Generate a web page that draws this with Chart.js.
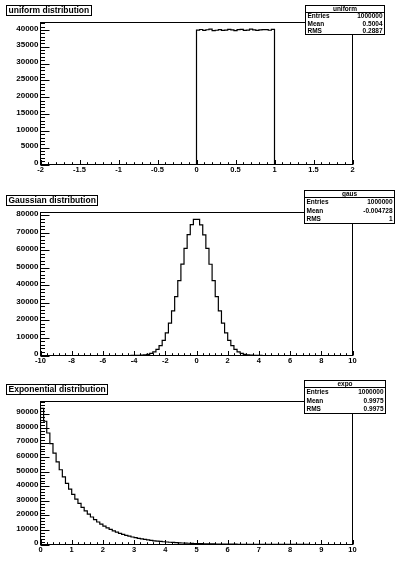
<!DOCTYPE html>
<html><head><meta charset="utf-8">
<script src="https://cdn.jsdelivr.net/npm/chart.js@4"></script>
<style>
html,body{margin:0;padding:0;background:#fff;width:396px;height:568px;overflow:hidden}
canvas{position:absolute;left:0}
</style></head><body>
<canvas id="c1" width="396" height="189" style="top:0px"></canvas>
<canvas id="c2" width="396" height="189" style="top:189px"></canvas>
<canvas id="c3" width="396" height="189" style="top:379px"></canvas>
<script>
// ---------------- data ----------------
const uniformRange = [-2, 2];
const uniformCounts = [
 0,0,0,0,0,0,0,0,0,0, 0,0,0,0,0,0,0,0,0,0, 0,0,0,0,0,0,0,0,0,0, 0,0,0,0,0,0,0,0,0,0, 0,0,0,0,0,0,0,0,0,0,
 39950,40120,39880,40050,40210,39760,39900,40080,39850,39920,
 40150,40030,39810,40090,40180,39870,39950,40230,40010,39840,
 39980,40110,40060,39900,40170,
 0,0,0,0,0,0,0,0,0,0, 0,0,0,0,0,0,0,0,0,0, 0,0,0,0,0
];
const gaussRange = [-10, 10];
const gaussCounts = [
 0,0,0,0,0,0,0,0,0,0, 0,0,0,0,0,0,0,0,0,0, 0,0,0,0,0,
 0,1,3,8,20,41,92,181,343,655,1192,2063,3478,5596,8681,12930,18502,25451,33634,42730,52150,61150,68930,74650,77700,
 77640,74580,68870,61090,52080,42690,33580,25410,18460,12900,8650,5580,3460,2050,1180,648,338,178,88,39,19,7,3,1,0,
 0,0,0,0,0,0,0,0,0,0, 0,0,0,0,0,0,0,0,0,0, 0,0,0,0,0
];
const expoRange = [0, 10];
const expoCounts = [
 93730,84820,76740,69440,62830,56850,51450,46550,42120,38110,
 34480,31200,28230,25540,23120,20910,18920,17130,15490,14030,
 12690,11480,10380,9400,8500,7700,6960,6300,5700,5160,
 4670,4220,3820,3460,3130,2830,2560,2320,2100,1890,
 1710,1560,1410,1270,1150,1040,950,850,770,690,
 630,570,520,470,420,380,350,310,280,250,
 230,210,190,170,160,140,130,110,100,90,
 85,78,70,64,57,51,47,42,38,34,
 31,29,26,23,21,19,17,16,14,13,
 11,10,10,9,8,7,7,6,5,5
];
const yMaxes = [42200, 81600, 98400];

const uniformXTicks = [-2,-1.5,-1,-0.5,0,0.5,1,1.5,2];
const uniformYTicks = [0,5000,10000,15000,20000,25000,30000,35000,40000];
const gaussXTicks = [-10,-8,-6,-4,-2,0,2,4,6,8,10];
const gaussYTicks = [0,10000,20000,30000,40000,50000,60000,70000,80000];
const expoXTicks = [0,1,2,3,4,5,6,7,8,9,10];
const expoYTicks = [0,10000,20000,30000,40000,50000,60000,70000,80000,90000];

const titles = ['uniform distribution','Gaussian distribution','Exponential distribution'];
const statNames = ['uniform','gaus','expo'];
const statEntries = ['1000000','1000000','1000000'];
const statMeans = ['0.5004','-0.004728','0.9975'];
const statRMS = ['0.2887','1','0.9975'];

// ---------------- layout (pixels, per pad) ----------------
const pads = [
 {id:'c1', counts:uniformCounts, range:uniformRange, xt:uniformXTicks, yt:uniformYTicks, ymax:yMaxes[0],
  fTop:22.5, fBot:164.5, stats:{x1:305.5,x2:384.5,y1:5.5,y2:34.5}, titleY:5.5},
 {id:'c2', counts:gaussCounts, range:gaussRange, xt:gaussXTicks, yt:gaussYTicks, ymax:yMaxes[1],
  fTop:23.5, fBot:166.5, stats:{x1:304.5,x2:394.5,y1:1.5,y2:34.5}, titleY:6.5},
 {id:'c3', counts:expoCounts, range:expoRange, xt:expoXTicks, yt:expoYTicks, ymax:yMaxes[2],
  fTop:22.5, fBot:165.5, stats:{x1:304.5,x2:385.5,y1:1.5,y2:34.5}, titleY:5.5}
];
const FONT = '"Liberation Sans", Arial, sans-serif';

function fmt(v){ return String(v); }

const rootPad = {
 id:'rootPad',
 afterDraw(chart, args, o){
  const ctx = chart.ctx, a = chart.chartArea, xs = chart.scales.x, ys = chart.scales.y;
  ctx.save();
  ctx.strokeStyle = '#000'; ctx.fillStyle = '#000'; ctx.lineWidth = 1;
  // frame
  ctx.strokeRect(a.left, a.top, a.right - a.left, a.bottom - a.top);
  // y ticks
  const yt = o.yt, ystep = (yt[1]-yt[0])/5;
  ctx.beginPath();
  for (let k = 0; ; k++){
   const v = yt[0] + k*ystep; if (v > ys.max + 1e-9) break;
   const py = Math.round(ys.getPixelForValue(v)) + 0.5;
   ctx.moveTo(a.left, py); ctx.lineTo(a.left + (k%5===0 ? 9 : 4.5), py);
  }
  // x ticks
  const xt = o.xt, xstep = (xt[1]-xt[0])/5;
  for (let k = 0; ; k++){
   const v = xt[0] + k*xstep; if (v > xs.max + 1e-9) break;
   const px = Math.round(xs.getPixelForValue(v)) + 0.5;
   ctx.moveTo(px, a.bottom); ctx.lineTo(px, a.bottom - (k%5===0 ? 4.5 : 2.3));
  }
  ctx.stroke();
  // y labels
  ctx.font = 'bold 8px ' + FONT;
  ctx.textAlign = 'right'; ctx.textBaseline = 'middle';
  yt.forEach(v => {
   const py = ys.getPixelForValue(v);
   ctx.fillText(fmt(v), a.left - 2, py - 1.5);
  });
  // x labels
  ctx.font = 'bold 7.5px ' + FONT;
  ctx.textAlign = 'center'; ctx.textBaseline = 'top';
  xt.forEach(v => {
   const px = xs.getPixelForValue(v);
   ctx.fillText(fmt(v), px, a.bottom + 1.5);
  });
  // title box
  ctx.font = 'bold 8.5px ' + FONT;
  ctx.textAlign = 'left'; ctx.textBaseline = 'middle';
  const tw = ctx.measureText(o.title).width;
  ctx.fillStyle = '#fff';
  ctx.fillRect(6.5, o.titleY, Math.round(tw + 4), 10);
  ctx.strokeRect(6.5, o.titleY, Math.round(tw + 4), 10);
  ctx.fillStyle = '#000';
  ctx.fillText(o.title, 8.5, o.titleY + 5.3);
  // stats box
  const s = o.stats, H = s.y2 - s.y1, hh = 7, rh = (H - hh)/3;
  ctx.fillStyle = '#fff';
  ctx.fillRect(s.x1, s.y1, s.x2 - s.x1, H);
  ctx.strokeRect(s.x1, s.y1, s.x2 - s.x1, H);
  ctx.beginPath(); ctx.moveTo(s.x1, s.y1 + hh); ctx.lineTo(s.x2, s.y1 + hh); ctx.stroke();
  ctx.fillStyle = '#000';
  ctx.font = 'bold 6.5px ' + FONT;
  ctx.textAlign = 'center';
  ctx.fillText(o.name, (s.x1 + s.x2)/2, s.y1 + hh/2 + 0.3);
  const rows = [['Entries', o.entries], ['Mean', o.mean], ['RMS', o.rms]];
  rows.forEach((r, i) => {
   const cy = s.y1 + hh + rh*(i + 0.5) + 0.3;
   ctx.textAlign = 'left'; ctx.fillText(r[0], s.x1 + 2, cy);
   ctx.textAlign = 'right'; ctx.fillText(r[1], s.x2 - 2, cy);
  });
  ctx.restore();
 }
};

pads.forEach((p, idx) => {
 const lo = p.range[0], hi = p.range[1], n = p.counts.length, w = (hi - lo)/n;
 const pts = [{x: lo, y: 0}];
 p.counts.forEach((c, i) => pts.push({x: lo + i*w, y: c}));
 pts.push({x: hi, y: p.counts[n-1]});
 pts.push({x: hi, y: 0});
 new Chart(document.getElementById(p.id), {
  type: 'line',
  data: { datasets: [{ data: pts, stepped: 'before', borderColor: '#000', borderWidth: 1.2,
          pointRadius: 0, fill: false, tension: 0 }] },
  options: {
   responsive: false, animation: false, devicePixelRatio: 1,
   layout: { padding: { left: 40.5, right: 396 - 352.5, top: p.fTop, bottom: 189 - p.fBot } },
   plugins: { legend: { display: false }, tooltip: { enabled: false },
    rootPad: { xt: p.xt, yt: p.yt, title: titles[idx], name: statNames[idx], entries: statEntries[idx],
      mean: statMeans[idx], rms: statRMS[idx], stats: p.stats, titleY: p.titleY } },
   scales: {
    x: { type: 'linear', min: lo, max: hi, display: false },
    y: { type: 'linear', min: 0, max: p.ymax, display: false }
   }
  },
  plugins: [rootPad]
 });
});
</script>
</body></html>
